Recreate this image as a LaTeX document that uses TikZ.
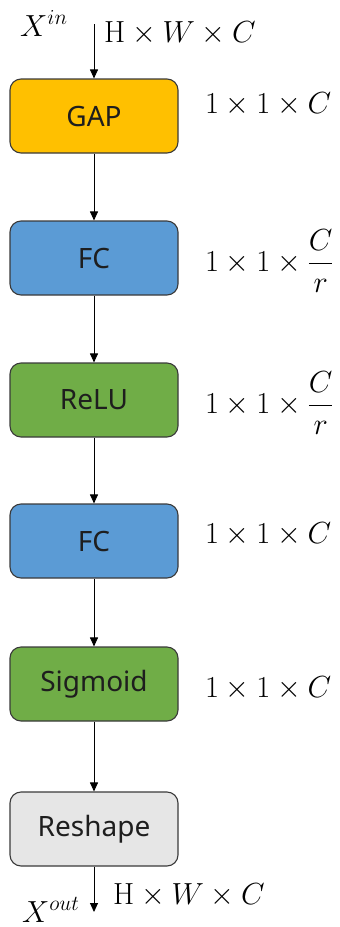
\RequirePackage{fix-cm}
\documentclass[tikz,border=0pt]{standalone}
\usepackage{amsmath}
\usepackage[no-math]{fontspec}
\setmainfont{Noto Sans}
\usetikzlibrary{arrows.meta}
\definecolor{gapc}{HTML}{FFC000}
\definecolor{fcc}{HTML}{5B9BD5}
\definecolor{reluc}{HTML}{70AD47}
\definecolor{reshc}{HTML}{E6E6E6}
\definecolor{edgec}{HTML}{3A3A3A}
\definecolor{txtc}{HTML}{1E1E1E}
\begin{document}
\begin{tikzpicture}[x=1pt,y=-1pt,
  blk/.style={draw=edgec, line width=1.1pt, rounded corners=11pt, minimum width=168pt, minimum height=74pt, inner sep=0pt, text=txtc, font=\fontsize{28}{32}\selectfont},
  conn/.style={draw=black, line width=0.9pt, -{Triangle[length=9pt,width=8pt]}},
  mlab/.style={inner sep=0pt, font=\fontsize{30.5}{33}\selectfont, text=black},
  dimlab/.style={mlab, anchor=west}
]
\useasboundingbox (0,0) rectangle (340,927);
\node[blk, fill=gapc] (gap) at (94,116) {GAP};
\node[blk, fill=fcc] (fc1) at (94,258) {FC};
\node[blk, fill=reluc] (relu) at (94,400) {ReLU};
\node[blk, fill=fcc] (fc2) at (94,541) {FC};
\node[blk, fill=reluc] (sig) at (94,684) {Sigmoid};
\node[blk, fill=reshc] (resh) at (94,829) {Reshape};
\coordinate (in) at (94,24);
\coordinate (out) at (94,912);
\draw[conn] (in) -- (gap.north);
\draw[conn] (gap.south) -- (fc1.north);
\draw[conn] (fc1.south) -- (relu.north);
\draw[conn] (relu.south) -- (fc2.north);
\draw[conn] (fc2.south) -- (sig.north);
\draw[conn] (sig.south) -- (resh.north);
\draw[conn] (resh.south) -- (out);
\node[mlab, anchor=base west] (xin) at (20,36) {$X^{in}$};
\node[mlab, anchor=base west] (hin) at (104,42) {$\mathrm{H}\times W\times C$};
\node[mlab, anchor=base west] (xout) at (22,922) {$X^{out}$};
\node[mlab, anchor=base west] (hout) at (113,904) {$\mathrm{H}\times W\times C$};
\node[dimlab, anchor=base west] (l1) at (205,113) {$1\times 1\times C$};
\node[dimlab] (l2) at (205,261) {$1\times 1\times \dfrac{C}{r}$};
\node[dimlab] (l3) at (205,403) {$1\times 1\times \dfrac{C}{r}$};
\node[dimlab, anchor=base west] (l4) at (205,543) {$1\times 1\times C$};
\node[dimlab, anchor=base west] (l5) at (205,697) {$1\times 1\times C$};
\end{tikzpicture}
\end{document}
